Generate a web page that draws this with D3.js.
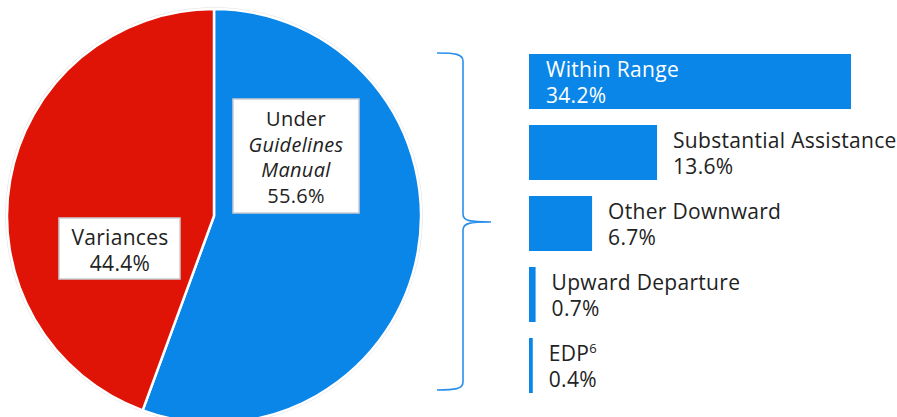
<!DOCTYPE html>
<html>
<head>
<meta charset="utf-8">
<script src="https://d3js.org/d3.v7.min.js"></script>
<style>
  body { margin: 0; background: #fff; }
  text { font-family: "Open Sans", sans-serif; fill: #222; letter-spacing: 0.3px; }
</style>
</head>
<body>
<script>
// pie data
var pieLabels = ["Under Guidelines Manual", "Variances"];
var pieValues = [55.6, 44.4];
var pieColors = ["#0a86e8", "#e01406"];

// bar data (breakdown of the Guidelines slice)
var barLabels = ["Within Range", "Substantial Assistance", "Other Downward", "Upward Departure", "EDP"];
var barValues = [34.2, 13.6, 6.7, 0.7, 0.4];

var width = 897,
    height = 417;

var svg = d3.select("body").append("svg")
    .attr("width", width)
    .attr("height", height);

// ---- pie ----
var cx = 214, cy = 216, radius = 207;

var pie = d3.pie().sort(null);
var arc = d3.arc().innerRadius(0).outerRadius(radius);

var pg = svg.append("g").attr("transform", "translate(" + cx + "," + cy + ")");

pg.append("circle")
    .attr("r", radius + 1)
    .attr("fill", "none")
    .attr("stroke", "#e2e2e2")
    .attr("stroke-width", 1.5);

pg.selectAll("path")
  .data(pie(pieValues))
  .enter().append("path")
    .attr("d", arc)
    .attr("fill", function(d, i) { return pieColors[i]; })
    .attr("stroke", "#fff")
    .attr("stroke-width", 2.5);

// label boxes
function labelBox(x, y, w, h) {
  svg.append("rect")
      .attr("x", x).attr("y", y)
      .attr("width", w).attr("height", h)
      .attr("fill", "#fff")
      .attr("stroke", "#c9ccd2")
      .attr("stroke-width", 1.5);
}

labelBox(233, 99, 126, 114);
var g1 = svg.append("text").attr("text-anchor", "middle").attr("font-size", 20);
g1.append("tspan").attr("x", 296).attr("y", 126).text("Under");
g1.append("tspan").attr("x", 296).attr("y", 152).attr("font-style", "italic").text("Guidelines");
g1.append("tspan").attr("x", 296).attr("y", 177).attr("font-style", "italic").text("Manual");
g1.append("tspan").attr("x", 296).attr("y", 203).text(pieValues[0].toFixed(1) + "%");

labelBox(59, 218, 121, 61);
var g2 = svg.append("text").attr("text-anchor", "middle").attr("font-size", 21);
g2.append("tspan").attr("x", 120).attr("y", 245).text(pieLabels[1]);
g2.append("tspan").attr("x", 120).attr("y", 271).text(pieValues[1].toFixed(1) + "%");

// ---- brace ----
var bx = 463, bTop = 53, bBot = 390, bMid = 222;
svg.append("path")
    .attr("d", "M437," + bTop + " C455," + bTop + " " + bx + "," + (bTop + 1) + " " + bx + "," + (bTop + 8) +
               " L" + bx + "," + (bMid - 8) + " C" + bx + "," + (bMid - 1) + " 470," + bMid + " 491," + bMid +
               " C470," + bMid + " " + bx + "," + (bMid + 1) + " " + bx + "," + (bMid + 8) +
               " L" + bx + "," + (bBot - 8) + " C" + bx + "," + (bBot - 1) + " 455," + bBot + " 437," + bBot)
    .attr("fill", "none")
    .attr("stroke", "#2b8fe9")
    .attr("stroke-width", 1.6);

// ---- bars ----
var x0 = 529;
var x = d3.scaleLinear()
    .domain([0, d3.max(barValues)])
    .range([0, 322]);

var y = d3.scaleBand()
    .domain(barLabels)
    .range([54, 393])
    .paddingInner(0.225);

var bars = svg.selectAll(".bar")
  .data(barLabels)
  .enter().append("g")
    .attr("class", "bar");

bars.append("rect")
    .attr("x", x0)
    .attr("y", function(d) { return y(d); })
    .attr("width", function(d, i) { return x(barValues[i]); })
    .attr("height", y.bandwidth())
    .attr("fill", "#0a86e8");

var lbl = bars.append("text")
    .attr("font-size", 21)
    .style("fill", function(d, i) { return i === 0 ? "#fff" : "#222"; });

function lx(i) {
  return i === 0 ? x0 + 17 : x0 + x(barValues[i]) + 16;
}

lbl.append("tspan")
    .attr("x", function(d, i) { return lx(i); })
    .attr("y", function(d) { return y(d) + 23; })
    .text(function(d) { return d; })
  .filter(function(d) { return d === "EDP"; })
  .append("tspan")
    .attr("font-size", 13)
    .attr("dy", -8)
    .text("6");

lbl.append("tspan")
    .attr("x", function(d, i) { return lx(i); })
    .attr("y", function(d) { return y(d) + 49; })
    .text(function(d, i) { return barValues[i].toFixed(1) + "%"; });
</script>
</body>
</html>
